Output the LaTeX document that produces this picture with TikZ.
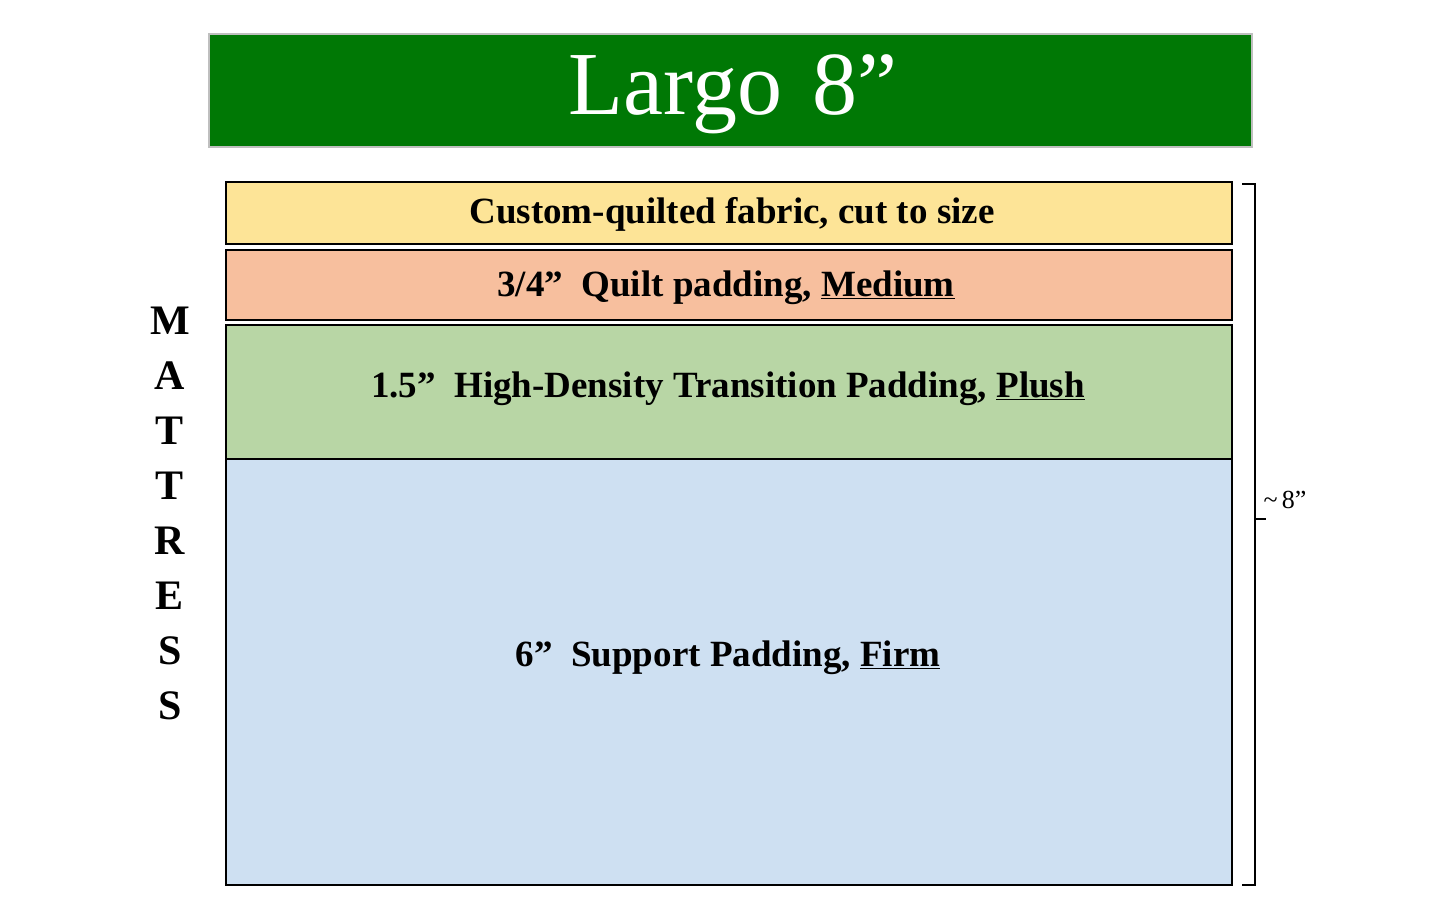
\documentclass[tikz,border=0pt]{standalone}
\usepackage{fontspec}
\setmainfont{Liberation Serif}
\begin{document}
\begin{tikzpicture}[x=1pt,y=-1pt,
  layer/.style={draw=black,line width=1.5pt},
  lbl/.style={font=\fontsize{37}{40}\selectfont\bfseries}]
\useasboundingbox (0,0) rectangle (1445,920);
\fill[white] (0,0) rectangle (1445,920);
\draw[fill={rgb,255:red,0;green,120;blue,5},draw=black!25,line width=1.5pt] (209,34) rectangle (1252,147);
\node[text=white,font=\fontsize{90}{96}\selectfont] (title) at (733,94) {Largo\,\,8\textquotedblright};
\draw[layer,fill={rgb,255:red,253;green,228;blue,151}] (226,182) rectangle (1232,244);
\draw[layer,fill={rgb,255:red,247;green,191;blue,158}] (226,250) rectangle (1232,320);
\draw[layer,fill={rgb,255:red,184;green,214;blue,165}] (226,325) rectangle (1232,459);
\draw[layer,fill={rgb,255:red,206;green,224;blue,242}] (226,459) rectangle (1232,885);
\node[lbl] (l1) at (732,214) {Custom-quilted fabric, cut to size};
\node[lbl] (l2) at (726,288) {3/4\char"22\,\,\,Quilt padding, \underline{Medium}};
\node[lbl] (l3) at (728,389) {1.5\textquotedblright\,\,\,High-Density Transition Padding, \underline{Plush}};
\node[lbl] (l4) at (728,658) {6\textquotedblright\,\,\,Support Padding, \underline{Firm}};
\foreach \c [count=\i] in {M,A,T,T,R,E,S,S}
  \node[font=\fontsize{42}{44}\selectfont\bfseries] (m\i) at (170,266+55*\i) {\c};
\draw[line width=2pt] (1242,184) -- (1255,184) -- (1255,885) -- (1242,885);
\draw[line width=2pt] (1255,519) -- (1266,519);
\node[anchor=west,font=\fontsize{26}{28}\selectfont] (dim) at (1260,500) {\textasciitilde\,8\textquotedblright};
\end{tikzpicture}
\end{document}
